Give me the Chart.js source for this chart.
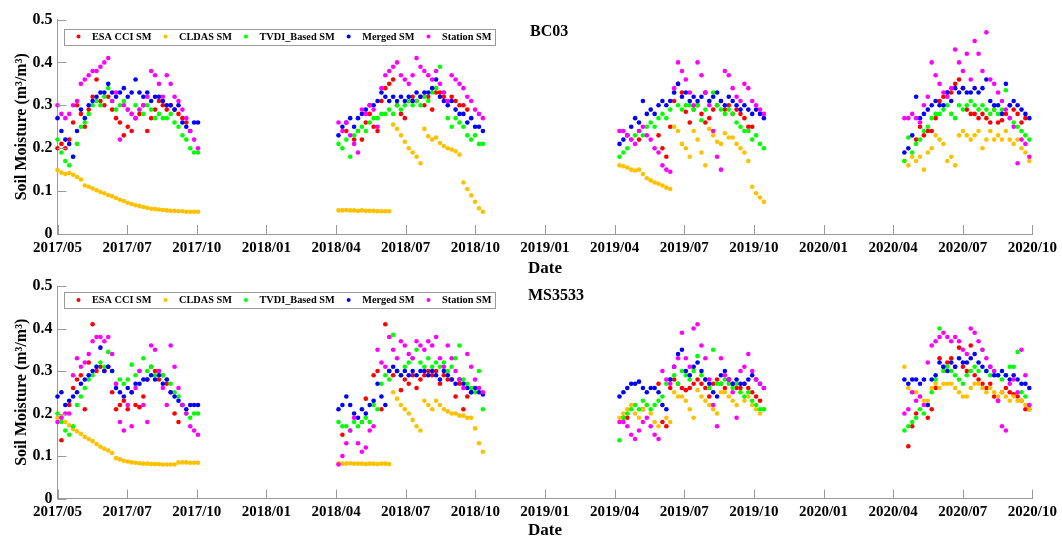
<!DOCTYPE html>
<html>
<head>
<meta charset="utf-8">
<title>Soil moisture BC03 / MS3533</title>
<script src="https://cdn.jsdelivr.net/npm/chart.js@4.4.1/dist/chart.umd.min.js"></script>
<style>
  html, body { margin: 0; padding: 0; background: #fff; }
  #wrap { position: relative; width: 1062px; height: 539px; overflow: hidden; }
  canvas { position: absolute; left: 0; }
  #chartBC03 { top: 0; }
  #chartMS3533 { top: 262px; }
</style>
</head>
<body>
<div id="wrap">
  <canvas id="chartBC03" width="1062" height="282"></canvas>
  <canvas id="chartMS3533" width="1062" height="277"></canvas>
</div>
<script>
// --- 1. Data (x = days since 2017/05/01, every 5 days) ---
const tickLabels = ['2017/05', '2017/07', '2017/10', '2018/01', '2018/04', '2018/07', '2018/10',
  '2019/01', '2019/04', '2019/07', '2019/10', '2020/01', '2020/04', '2020/07', '2020/10'];
const spanDays = 1249; // 2017/05/01 -> 2020/10/01

const days = [
  0, 5, 10, 15, 20, 25, 30, 35, 40, 45, 50, 55, 60, 65, 70, 75, 80, 85, 90, 95, 100, 105, 110, 115, 120, 125, 130, 135, 140, 145, 150, 155, 160, 165, 170, 175, 180,
  360, 365, 370, 375, 380, 385, 390, 395, 400, 405, 410, 415, 420, 425, 430, 435, 440, 445, 450, 455, 460, 465, 470, 475, 480, 485, 490, 495, 500, 505, 510, 515, 520, 525, 530, 535, 540, 545,
  720, 725, 730, 735, 740, 745, 750, 755, 760, 765, 770, 775, 780, 785, 790, 795, 800, 805, 810, 815, 820, 825, 830, 835, 840, 845, 850, 855, 860, 865, 870, 875, 880, 885, 890, 895, 900, 905,
  1085, 1090, 1095, 1100, 1105, 1110, 1115, 1120, 1125, 1130, 1135, 1140, 1145, 1150, 1155, 1160, 1165, 1170, 1175, 1180, 1185, 1190, 1195, 1200, 1205, 1210, 1215, 1220, 1225, 1230, 1235, 1240, 1245
];

// BC03
const bc03Esa = [
  0.20, 0.21, 0.20, 0.22, 0.26, 0.30, 0.28, 0.25, 0.29, 0.32, 0.36, 0.31, 0.30, 0.32, 0.29, 0.27, 0.26, 0.23, 0.25, 0.24, 0.27, 0.28, 0.30, 0.24, 0.27, 0.29, 0.31, 0.30, 0.29, 0.30, 0.29, 0.28, 0.27, 0.26, null, null, null,
  null, null, 0.24, null, 0.22, 0.24, 0.22, 0.26, 0.28, 0.25, 0.24, 0.31, 0.34, 0.35, 0.36, 0.30, 0.28, 0.27, 0.31, 0.32, 0.31, 0.32, 0.30, 0.32, 0.29, 0.33, 0.33, 0.32, 0.31, 0.32, 0.31, 0.30, 0.30, 0.29, null, null, null, null,
  null, null, null, null, null, 0.22, null, null, null, null, 0.23, 0.20, 0.18, 0.25, 0.31, 0.35, 0.33, 0.285, 0.26, 0.29, 0.30, 0.28, 0.26, 0.27, 0.29, 0.30, 0.31, 0.29, 0.30, 0.28, 0.29, 0.28, 0.27, 0.25, 0.25, null, null, null,
  null, null, null, 0.22, 0.25, 0.23, 0.24, 0.24, 0.27, 0.31, 0.32, 0.33, 0.33, 0.35, 0.36, 0.34, 0.29, 0.28, 0.28, 0.27, 0.28, 0.27, 0.26, 0.29, 0.26, 0.265, 0.28, 0.30, 0.29, 0.28, 0.26, 0.27, null
];
const bc03Cldas = [
  0.149, 0.143, 0.14, 0.142, 0.138, 0.133, 0.127, 0.113, 0.11, 0.106, 0.102, 0.098, 0.095, 0.091, 0.088, 0.084, 0.08, 0.077, 0.073, 0.07, 0.067, 0.065, 0.063, 0.061, 0.059, 0.058, 0.057, 0.056, 0.055, 0.054, 0.054, 0.053, 0.053, 0.052, 0.052, 0.052, 0.052,
  0.055, 0.055, 0.056, 0.055, 0.055, 0.054, 0.055, 0.054, 0.054, 0.054, 0.053, 0.053, 0.053, 0.053, 0.255, 0.245, 0.23, 0.215, 0.20, 0.19, 0.18, 0.165, 0.245, 0.228, 0.22, 0.225, 0.212, 0.205, 0.20, 0.197, 0.193, 0.185, 0.12, 0.105, 0.09, 0.075, 0.06, 0.052,
  0.16, 0.158, 0.155, 0.15, 0.148, 0.15, 0.14, 0.13, 0.125, 0.12, 0.117, 0.113, 0.108, 0.105, 0.25, 0.24, 0.21, 0.20, 0.18, 0.24, 0.22, 0.19, 0.16, 0.245, 0.23, 0.215, 0.21, 0.235, 0.225, 0.225, 0.21, 0.20, 0.19, 0.17, 0.11, 0.095, 0.085, 0.075,
  0.17, 0.16, 0.18, 0.17, 0.18, 0.15, 0.19, 0.20, 0.23, 0.22, 0.21, 0.17, 0.18, 0.16, 0.23, 0.24, 0.23, 0.22, 0.23, 0.24, 0.20, 0.22, 0.24, 0.22, 0.23, 0.22, 0.24, 0.22, 0.21, 0.22, 0.20, 0.19, 0.17
];
const bc03Tvdi = [
  0.22, 0.19, 0.17, 0.16, 0.18, 0.21, 0.25, 0.26, 0.28, 0.30, 0.31, 0.30, 0.32, 0.34, 0.31, 0.29, 0.30, 0.31, 0.29, 0.28, 0.30, 0.29, 0.28, 0.30, 0.29, 0.27, 0.28, 0.27, 0.27, 0.28, 0.26, 0.25, 0.23, 0.22, 0.20, 0.19, 0.19,
  0.21, 0.20, 0.22, 0.18, 0.23, 0.24, 0.25, 0.24, 0.26, 0.27, 0.27, 0.28, 0.28, 0.29, 0.28, 0.30, 0.29, 0.30, 0.31, 0.30, 0.31, 0.30, 0.32, 0.31, 0.33, 0.34, 0.39, 0.33, 0.27, 0.25, 0.27, 0.26, 0.25, 0.23, 0.22, 0.23, 0.21, 0.21,
  0.18, 0.19, 0.20, 0.22, 0.23, 0.24, 0.23, 0.25, 0.26, 0.25, 0.27, 0.28, 0.27, 0.29, 0.33, 0.30, 0.29, 0.30, 0.30, 0.29, 0.30, 0.265, 0.29, 0.31, 0.33, 0.30, 0.29, 0.28, 0.29, 0.28, 0.26, 0.25, 0.24, 0.24, 0.22, 0.23, 0.21, 0.20,
  0.17, 0.225, 0.19, 0.21, 0.22, 0.24, 0.25, 0.27, 0.28, 0.28, 0.29, 0.30, 0.28, 0.27, 0.30, 0.29, 0.30, 0.31, 0.30, 0.29, 0.30, 0.29, 0.28, 0.29, 0.28, 0.29, 0.335, 0.27, 0.26, 0.25, 0.24, 0.23, 0.22
];
const bc03Merged = [
  0.27, 0.24, 0.22, 0.21, 0.18, 0.24, 0.29, 0.27, 0.30, 0.31, 0.32, 0.33, 0.33, 0.35, 0.33, 0.32, 0.33, 0.34, 0.32, 0.33, 0.36, 0.33, 0.32, 0.33, 0.31, 0.32, 0.32, 0.31, 0.30, 0.30, 0.29, 0.30, 0.26, 0.25, 0.24, 0.26, 0.26,
  0.23, 0.25, 0.26, 0.27, 0.25, 0.27, 0.28, 0.29, 0.30, 0.30, 0.31, 0.33, 0.32, 0.31, 0.32, 0.31, 0.32, 0.31, 0.32, 0.31, 0.33, 0.32, 0.33, 0.33, 0.34, 0.36, 0.32, 0.31, 0.30, 0.31, 0.29, 0.28, 0.28, 0.26, 0.27, 0.25, 0.25, 0.24,
  0.21, 0.22, 0.23, 0.25, 0.27, 0.26, 0.31, 0.28, 0.29, 0.28, 0.30, 0.31, 0.30, 0.31, 0.33, 0.35, 0.32, 0.33, 0.31, 0.32, 0.31, 0.32, 0.33, 0.31, 0.32, 0.33, 0.31, 0.30, 0.32, 0.31, 0.30, 0.29, 0.30, 0.29, 0.28, 0.29, 0.28, 0.27,
  0.19, 0.20, 0.23, 0.32, 0.27, 0.28, 0.29, 0.30, 0.31, 0.30, 0.30, 0.33, 0.31, 0.34, 0.33, 0.34, 0.33, 0.33, 0.34, 0.33, 0.34, 0.36, 0.31, 0.30, 0.30, 0.28, 0.35, 0.30, 0.31, 0.30, 0.29, 0.28, 0.27
];
const bc03Station = [
  0.30, 0.28, 0.27, 0.28, 0.30, 0.31, 0.35, 0.36, 0.37, 0.38, 0.38, 0.39, 0.40, 0.41, 0.31, 0.33, 0.22, 0.30, 0.29, 0.28, 0.27, 0.29, 0.30, 0.32, 0.38, 0.37, 0.35, 0.32, 0.37, 0.35, 0.32, 0.31, 0.29, 0.27, 0.24, 0.22, 0.20,
  0.26, 0.24, 0.26, 0.23, 0.21, 0.19, 0.29, 0.28, 0.30, 0.29, 0.25, 0.34, 0.37, 0.38, 0.39, 0.40, 0.37, 0.36, 0.35, 0.37, 0.41, 0.39, 0.38, 0.37, 0.36, 0.38, 0.35, 0.33, 0.31, 0.37, 0.36, 0.35, 0.34, 0.32, 0.31, 0.29, 0.28, 0.27,
  0.24, 0.24, 0.23, 0.22, 0.21, 0.24, 0.25, 0.23, 0.22, 0.20, 0.19, 0.16, 0.15, 0.145, 0.34, 0.40, 0.38, 0.36, 0.33, 0.30, 0.40, 0.37, 0.33, 0.30, 0.24, 0.18, 0.15, 0.38, 0.37, 0.34, 0.32, 0.31, 0.35, 0.34, 0.31, 0.30, 0.29, 0.28,
  0.27, 0.27, 0.28, 0.27, 0.26, 0.30, 0.32, 0.40, 0.37, 0.35, 0.33, 0.32, 0.34, 0.43, 0.40, 0.38, 0.42, 0.36, 0.45, 0.42, 0.38, 0.47, 0.36, 0.35, 0.33, 0.31, 0.29, 0.27, 0.25, 0.165, 0.22, 0.21, 0.18
];

// MS3533
const ms3533Esa = [
  null, 0.137, null, 0.22, 0.26, 0.28, 0.29, 0.21, 0.32, 0.41, 0.30, 0.31, 0.30, 0.31, 0.25, 0.21, 0.22, 0.23, 0.21, 0.25, 0.22, 0.215, 0.24, 0.28, 0.31, 0.30, 0.28, 0.29, 0.27, 0.25, 0.20, 0.18, null, null, null, null, null,
  null, 0.15, null, null, null, null, 0.18, 0.235, null, 0.29, 0.30, 0.21, 0.41, 0.30, 0.29, 0.30, 0.255, 0.28, 0.27, 0.29, 0.26, 0.28, 0.29, 0.30, 0.29, 0.30, 0.27, 0.29, 0.28, 0.28, 0.24, 0.27, 0.21, 0.24, 0.25, null, null, null,
  null, 0.19, 0.19, null, null, null, 0.21, null, null, null, 0.27, 0.18, 0.17, 0.26, 0.28, 0.27, 0.26, 0.255, 0.26, 0.27, 0.28, 0.27, 0.26, 0.24, 0.27, 0.28, 0.27, 0.26, 0.28, 0.27, 0.26, 0.26, 0.27, 0.26, 0.25, 0.24, 0.23, null,
  null, 0.123, 0.17, 0.20, null, null, 0.19, 0.21, 0.26, 0.33, 0.31, 0.32, 0.33, 0.31, 0.355, 0.31, 0.30, 0.36, 0.29, 0.28, 0.27, 0.26, 0.27, 0.24, 0.23, 0.25, 0.26, 0.25, 0.245, 0.24, 0.23, 0.21, 0.21
];
const ms3533Cldas = [
  0.19, 0.192, 0.18, 0.172, 0.163, 0.158, 0.152, 0.145, 0.14, 0.135, 0.128, 0.122, 0.117, 0.113, 0.107, 0.095, 0.092, 0.089, 0.087, 0.085, 0.084, 0.083, 0.082, 0.082, 0.081, 0.081, 0.081, 0.08, 0.08, 0.08, 0.08, 0.085, 0.085, 0.085, 0.084, 0.084, 0.084,
  0.083, 0.082, 0.082, 0.083, 0.082, 0.082, 0.082, 0.081, 0.082, 0.082, 0.081, 0.082, 0.082, 0.081, 0.25, 0.235, 0.22, 0.21, 0.20, 0.185, 0.17, 0.16, 0.23, 0.22, 0.21, 0.23, 0.22, 0.21, 0.205, 0.20, 0.20, 0.195, 0.195, 0.19, 0.19, 0.165, 0.13, 0.11,
  0.19, 0.20, 0.21, 0.22, 0.20, 0.19, 0.21, 0.22, 0.20, 0.18, 0.17, 0.22, 0.19, 0.18, 0.25, 0.24, 0.24, 0.23, 0.21, 0.19, 0.255, 0.24, 0.23, 0.22, 0.21, 0.20, 0.25, 0.25, 0.24, 0.23, 0.22, 0.25, 0.23, 0.24, 0.22, 0.21, 0.20, 0.21,
  0.31, 0.26, 0.25, 0.25, 0.24, 0.23, 0.23, 0.26, 0.27, 0.26, 0.27, 0.27, 0.27, 0.26, 0.25, 0.24, 0.24, 0.26, 0.27, 0.27, 0.26, 0.25, 0.26, 0.25, 0.24, 0.25, 0.24, 0.23, 0.24, 0.23, 0.23, 0.22, 0.21
];
const ms3533Tvdi = [
  0.20, 0.18, 0.16, 0.15, 0.17, 0.22, 0.24, 0.26, 0.28, 0.29, 0.31, 0.32, 0.31, 0.345, 0.30, 0.27, 0.28, 0.27, 0.28, 0.315, 0.29, 0.30, 0.33, 0.30, 0.31, 0.29, 0.30, 0.29, 0.28, 0.27, 0.25, 0.24, 0.22, 0.20, 0.19, 0.20, 0.20,
  0.18, 0.17, 0.17, 0.16, 0.18, 0.17, 0.18, 0.19, 0.18, 0.22, 0.21, 0.27, 0.29, 0.28, 0.385, 0.30, 0.29, 0.31, 0.32, 0.33, 0.35, 0.32, 0.31, 0.33, 0.31, 0.32, 0.31, 0.32, 0.30, 0.31, 0.33, 0.36, 0.28, 0.27, 0.26, 0.25, 0.30, 0.21,
  0.137, 0.19, 0.20, 0.21, 0.22, 0.21, 0.23, 0.22, 0.21, 0.22, 0.23, 0.24, 0.27, 0.28, 0.29, 0.27, 0.30, 0.29, 0.28, 0.30, 0.335, 0.29, 0.28, 0.26, 0.35, 0.27, 0.27, 0.28, 0.27, 0.26, 0.27, 0.25, 0.24, 0.25, 0.23, 0.22, 0.21, 0.21,
  0.16, 0.17, 0.18, 0.19, 0.21, 0.20, 0.22, 0.25, 0.28, 0.40, 0.30, 0.31, 0.30, 0.29, 0.28, 0.27, 0.29, 0.30, 0.31, 0.30, 0.35, 0.30, 0.29, 0.30, 0.29, 0.28, 0.29, 0.31, 0.31, 0.345, 0.25, 0.24, 0.22
];
const ms3533Merged = [
  0.24, 0.25, 0.22, 0.23, 0.24, 0.25, 0.27, 0.28, 0.29, 0.30, 0.31, 0.355, 0.30, 0.31, 0.30, 0.26, 0.25, 0.24, 0.26, 0.25, 0.27, 0.27, 0.28, 0.28, 0.29, 0.28, 0.29, 0.27, 0.28, 0.25, 0.24, 0.23, 0.22, 0.21, 0.22, 0.22, 0.22,
  0.21, 0.22, 0.24, 0.22, 0.20, 0.19, 0.21, 0.20, 0.22, 0.23, 0.27, 0.24, 0.22, 0.30, 0.31, 0.30, 0.29, 0.30, 0.29, 0.30, 0.29, 0.30, 0.30, 0.29, 0.30, 0.29, 0.28, 0.30, 0.29, 0.28, 0.27, 0.28, 0.27, 0.26, 0.25, 0.26, 0.25, 0.245,
  0.24, 0.25, 0.26, 0.27, 0.27, 0.275, 0.26, 0.25, 0.26, 0.26, 0.25, 0.22, 0.21, 0.28, 0.31, 0.34, 0.35, 0.30, 0.29, 0.31, 0.32, 0.30, 0.28, 0.27, 0.25, 0.24, 0.29, 0.30, 0.28, 0.27, 0.28, 0.27, 0.27, 0.28, 0.29, 0.28, 0.27, 0.26,
  0.28, 0.27, 0.28, 0.28, 0.27, 0.28, 0.22, 0.28, 0.29, 0.32, 0.31, 0.30, 0.32, 0.31, 0.33, 0.32, 0.32, 0.33, 0.34, 0.32, 0.31, 0.30, 0.31, 0.29, 0.29, 0.30, 0.29, 0.28, 0.29, 0.28, 0.27, 0.27, 0.26
];
const ms3533Station = [
  0.18, 0.19, 0.20, 0.20, 0.29, 0.33, 0.31, 0.32, 0.34, 0.37, 0.38, 0.38, 0.37, 0.38, 0.34, 0.27, 0.18, 0.16, 0.22, 0.17, 0.26, 0.30, 0.22, 0.18, 0.36, 0.35, 0.30, 0.26, 0.22, 0.36, 0.31, 0.26, 0.22, 0.20, 0.17, 0.16, 0.15,
  0.08, 0.10, 0.13, 0.16, 0.19, 0.13, 0.11, 0.12, 0.16, 0.17, 0.35, 0.32, 0.31, 0.38, 0.35, 0.33, 0.37, 0.36, 0.34, 0.33, 0.37, 0.36, 0.35, 0.37, 0.36, 0.38, 0.33, 0.31, 0.36, 0.33, 0.30, 0.28, 0.26, 0.34, 0.31, 0.28, 0.26, 0.25,
  0.18, 0.18, 0.17, 0.15, 0.14, 0.16, 0.18, 0.19, 0.17, 0.15, 0.14, 0.30, 0.28, 0.27, 0.31, 0.33, 0.39, 0.33, 0.31, 0.40, 0.41, 0.36, 0.33, 0.28, 0.22, 0.17, 0.33, 0.29, 0.28, 0.25, 0.19, 0.30, 0.31, 0.34, 0.30, 0.28, 0.27, 0.26,
  0.20, 0.21, 0.25, 0.23, 0.24, 0.22, 0.32, 0.36, 0.37, 0.38, 0.39, 0.38, 0.37, 0.38, 0.37, 0.35, 0.34, 0.40, 0.39, 0.37, 0.35, 0.33, 0.31, 0.30, 0.23, 0.17, 0.16, 0.27, 0.28, 0.25, 0.35, 0.29, 0.22
];

// --- 2. Styles ---
const FONT = "'Liberation Serif', 'Times New Roman', serif";
const AXIS_COLOR = '#9a9a9a';
const seriesStyle = [
  { label: 'ESA CCI SM', color: '#ff0000' },
  { label: 'CLDAS SM', color: '#ffc000' },
  { label: 'TVDI_Based SM', color: '#00ff00' },
  { label: 'Merged SM', color: '#0000ff' },
  { label: 'Station SM', color: '#ff00ff' }
];

Chart.defaults.font.family = FONT;
Chart.defaults.font.weight = 'bold';
Chart.defaults.color = '#000';

// --- 3. Helpers ---
function toPoints(values) {
  if (values.length !== days.length) console.error('length mismatch', values.length, days.length);
  return days.map((d, i) => ({ x: d, y: values[i] })).filter(p => p.y !== null);
}

// MATLAB-like ticks pointing into the axes
const inwardTicks = {
  id: 'inwardTicks',
  afterDraw(chart) {
    const { ctx, chartArea: a, scales: { x, y } } = chart;
    const len = 9;
    ctx.save();
    ctx.strokeStyle = AXIS_COLOR;
    ctx.lineWidth = 1;
    ctx.beginPath();
    x.ticks.forEach((t, i) => {
      const px = Math.round(x.getPixelForTick(i)) + 0.5;
      ctx.moveTo(px, a.bottom);
      ctx.lineTo(px, a.bottom - len);
    });
    y.ticks.forEach((t, i) => {
      const py = Math.round(y.getPixelForTick(i)) + 0.5;
      ctx.moveTo(a.left, py);
      ctx.lineTo(a.left + len, py);
    });
    ctx.stroke();
    ctx.restore();
  }
};

// boxed one-row legend + station name inside the axes
const panelDeco = {
  id: 'panelDeco',
  afterDraw(chart, args, opts) {
    const ctx = chart.ctx;
    ctx.save();
    ctx.textBaseline = 'middle';
    ctx.textAlign = 'left';
    ctx.fillStyle = '#000';
    ctx.font = 'bold 16px ' + FONT;
    ctx.fillText(opts.station, opts.stationX, opts.stationY);

    ctx.font = 'bold 10.3px ' + FONT;
    const midY = opts.legendY + 8;
    let x = opts.legendX + 14.5;
    const items = chart.data.datasets.map(ds => {
      const w = ctx.measureText(ds.label).width;
      const item = { dotX: x, textX: x + 13.5, label: ds.label, color: ds.backgroundColor };
      item.end = item.textX + w;
      x = item.end + 14;
      return item;
    });
    const boxRight = items[items.length - 1].end + 4;
    ctx.fillStyle = '#fff';
    ctx.fillRect(opts.legendX, opts.legendY, boxRight - opts.legendX, 16);
    ctx.strokeStyle = AXIS_COLOR;
    ctx.lineWidth = 1;
    ctx.strokeRect(Math.round(opts.legendX) + 0.5, Math.round(opts.legendY) + 0.5,
      Math.round(boxRight - opts.legendX), 16);
    items.forEach(it => {
      ctx.fillStyle = it.color;
      ctx.beginPath();
      ctx.arc(it.dotX, midY, 2, 0, Math.PI * 2);
      ctx.fill();
      ctx.fillStyle = '#000';
      ctx.fillText(it.label, it.textX, midY + 0.5);
    });
    ctx.restore();
  }
};

function makeChart(canvasId, series, layout) {
  const ctx = document.getElementById(canvasId).getContext('2d');
  const datasets = series.map((values, i) => ({
    label: seriesStyle[i].label,
    data: toPoints(values),
    backgroundColor: seriesStyle[i].color,
    borderWidth: 0,
    pointRadius: 2.3,
    order: series.length - i, // station drawn on top, like the plotting order
    clip: false
  }));

  return new Chart(ctx, {
    type: 'scatter',
    data: { datasets: datasets },
    options: {
      responsive: false,
      devicePixelRatio: 1,
      animation: false,
      events: [],
      layout: { padding: { top: layout.top, right: 27, left: 0, bottom: 0 } },
      scales: {
        x: {
          type: 'linear',
          min: 0,
          max: spanDays,
          afterBuildTicks: scale => {
            scale.ticks = tickLabels.map((_, i) => ({ value: i * spanDays / (tickLabels.length - 1) }));
          },
          afterFit: scale => { scale.height = layout.xHeight; },
          ticks: {
            autoSkip: false,
            maxRotation: 0,
            minRotation: 0,
            padding: 5,
            font: { size: 15, weight: 'bold' },
            callback: (value, index) => tickLabels[index]
          },
          grid: { display: false, drawTicks: false },
          border: { display: true, color: AXIS_COLOR, width: 1 },
          title: {
            display: true,
            text: 'Date',
            font: { size: 17, weight: 'bold', lineHeight: 1 },
            padding: { top: 0, bottom: layout.titlePad }
          }
        },
        y: {
          min: 0,
          max: 0.5,
          afterFit: scale => { scale.width = 57.5; },
          ticks: {
            stepSize: 0.1,
            padding: 5,
            font: { size: 16, weight: 'bold' },
            callback: value => (value === 0 ? '0' : value.toFixed(1))
          },
          grid: { display: false, drawTicks: false },
          border: { display: true, color: AXIS_COLOR, width: 1 },
          title: {
            display: true,
            text: 'Soil Moisture (m³/m³)',
            font: { size: 16, weight: 'bold', lineHeight: 1 },
            padding: { top: 14, bottom: 0 }
          }
        }
      },
      plugins: {
        legend: { display: false },
        tooltip: { enabled: false },
        panelDeco: layout.deco
      }
    },
    plugins: [inwardTicks, panelDeco]
  });
}

// --- 4. Render ---
makeChart('chartBC03', [bc03Esa, bc03Cldas, bc03Tvdi, bc03Merged, bc03Station], {
  top: 19.5, xHeight: 48, titlePad: 4.5,
  deco: { station: 'BC03', stationX: 530, stationY: 32, legendX: 64, legendY: 28.5 }
});
makeChart('chartMS3533', [ms3533Esa, ms3533Cldas, ms3533Tvdi, ms3533Merged, ms3533Station], {
  top: 24, xHeight: 40.5, titlePad: 0,
  deco: { station: 'MS3533', stationX: 528, stationY: 34, legendX: 64, legendY: 30 }
});
</script>
</body>
</html>
